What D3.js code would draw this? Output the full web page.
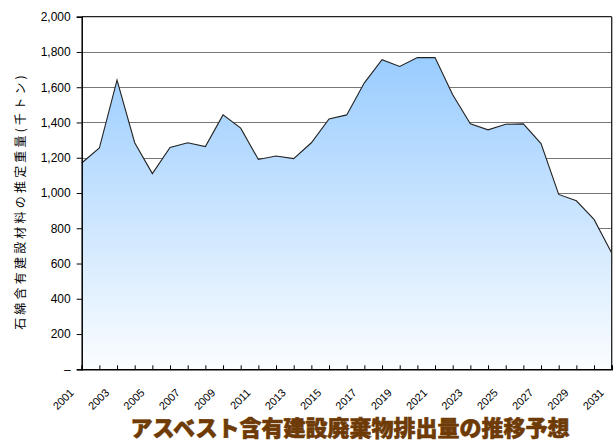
<!DOCTYPE html>
<html>
<head>
<meta charset="utf-8">
<script src="https://cdn.jsdelivr.net/npm/d3@7"></script>
<style>
  body { margin: 0; background: #fff; }
  svg { display: block; }
</style>
</head>
<body>
<div id="chart"></div>
<script>
// years on the x axis
var years = [2001, 2002, 2003, 2004, 2005, 2006, 2007, 2008, 2009, 2010,
    2011, 2012, 2013, 2014, 2015, 2016, 2017, 2018, 2019, 2020,
    2021, 2022, 2023, 2024, 2025, 2026, 2027, 2028, 2029, 2030, 2031];

// estimated weight (thousand tonnes)
var weights = [1170, 1255, 1640, 1285, 1110, 1258, 1285, 1263, 1443, 1368,
    1190, 1210, 1195, 1285, 1420, 1443, 1625, 1756, 1718, 1768,
    1768, 1557, 1392, 1358, 1390, 1392, 1280, 992, 956, 850, 660];

var yTicks = [0, 200, 400, 600, 800, 1000, 1200, 1400, 1600, 1800, 2000];
var yTickLabels = ["–", "200", "400", "600", "800", "1,000", "1,200", "1,400", "1,600", "1,800", "2,000"];
var xLabelYears = [2001, 2003, 2005, 2007, 2009, 2011, 2013, 2015, 2017, 2019,
    2021, 2023, 2025, 2027, 2029, 2031];

var titleText = "アスベスト含有建設廃棄物排出量の推移予想";
var yAxisTitle = "石綿含有建設材料の推定重量(千トン)";

var W = 614, H = 443;
var plotL = 81.7, plotR = 611.7, plotT = 16.7, plotB = 369.3;

var data = years.map(function (y, i) { return { year: y, value: weights[i] }; });

var x = d3.scaleLinear().domain([2001, 2031]).range([plotL, plotR]);
var y = d3.scaleLinear().domain([0, 2000]).range([plotB, plotT]);

var svg = d3.select("#chart").append("svg")
    .attr("width", W)
    .attr("height", H);

var defs = svg.append("defs");
var grad = defs.append("linearGradient")
    .attr("id", "fillGrad")
    .attr("gradientUnits", "userSpaceOnUse")
    .attr("x1", 0).attr("x2", 0)
    .attr("y1", y(1780)).attr("y2", plotB);
grad.append("stop").attr("offset", "0%").attr("stop-color", "#99ccff");
grad.append("stop").attr("offset", "100%").attr("stop-color", "#fbfdff");

// grid lines (behind the area)
svg.append("g")
    .selectAll("line")
    .data(yTicks.filter(function (d) { return d > 0 && d < 2000; }))
    .enter().append("line")
    .attr("x1", plotL).attr("x2", plotR)
    .attr("y1", function (d) { return Math.round(y(d)) + 0.5; })
    .attr("y2", function (d) { return Math.round(y(d)) + 0.5; })
    .attr("stroke", "#777")
    .attr("stroke-width", 1);

var area = d3.area()
    .x(function (d) { return x(d.year); })
    .y0(plotB)
    .y1(function (d) { return y(d.value); });

var line = d3.line()
    .x(function (d) { return x(d.year); })
    .y(function (d) { return y(d.value); });

svg.append("path")
    .datum(data)
    .attr("d", area)
    .attr("fill", "url(#fillGrad)");

svg.append("path")
    .datum(data)
    .attr("d", line)
    .attr("fill", "none")
    .attr("stroke", "#222")
    .attr("stroke-width", 1.1);

// top and right frame
svg.append("line")
    .attr("x1", plotL).attr("x2", plotR)
    .attr("y1", plotT).attr("y2", plotT)
    .attr("stroke", "#222").attr("stroke-width", 1.3);
svg.append("line")
    .attr("x1", plotR).attr("x2", plotR)
    .attr("y1", plotT).attr("y2", plotB)
    .attr("stroke", "#222").attr("stroke-width", 1.3);

// y axis
var yAxis = svg.append("g")
    .attr("transform", "translate(" + plotL + ",0)")
    .call(d3.axisLeft(y).tickValues(yTicks).tickSize(5).tickPadding(6)
        .tickFormat(function (d, i) { return yTickLabels[i]; }));
yAxis.select(".domain").attr("stroke", "#000").attr("stroke-width", 1.5);
yAxis.selectAll(".tick line").attr("stroke", "#000");
yAxis.selectAll("text")
    .attr("font-family", "Liberation Sans, Arial, sans-serif")
    .attr("font-size", "12px")
    .attr("fill", "#000");

// x axis
var xAxis = svg.append("g")
    .attr("transform", "translate(0," + plotB + ")")
    .call(d3.axisBottom(x).tickValues(years).tickSize(-4).tickFormat(""));
xAxis.select(".domain").attr("stroke", "#000").attr("stroke-width", 1.5);
xAxis.selectAll(".tick line").attr("stroke", "#000");

svg.append("g")
    .selectAll("text")
    .data(xLabelYears)
    .enter().append("text")
    .attr("transform", function (d) {
        return "translate(" + (x(d) - 7) + "," + (plotB + 24) + ") rotate(-45)";
    })
    .attr("text-anchor", "end")
    .attr("font-family", "Liberation Sans, Arial, sans-serif")
    .attr("font-size", "11px")
    .attr("fill", "#000")
    .text(function (d) { return d; });

// y axis title
svg.append("text")
    .attr("transform", "translate(25,201) rotate(-90)")
    .attr("text-anchor", "middle")
    .attr("font-family", "Noto Sans CJK JP, sans-serif")
    .attr("font-size", "12px")
    .attr("letter-spacing", "3.2px")
    .attr("fill", "#000")
    .text(yAxisTitle);

// chart title
svg.append("text")
    .attr("x", 350)
    .attr("y", 436)
    .attr("text-anchor", "middle")
    .attr("font-family", "Noto Sans CJK JP, sans-serif")
    .attr("font-weight", "900")
    .attr("font-size", "22px")
    .attr("fill", "#6e3a05")
    .attr("stroke", "#6e3a05")
    .attr("stroke-width", 0.6)
    .text(titleText);
</script>
</body>
</html>
